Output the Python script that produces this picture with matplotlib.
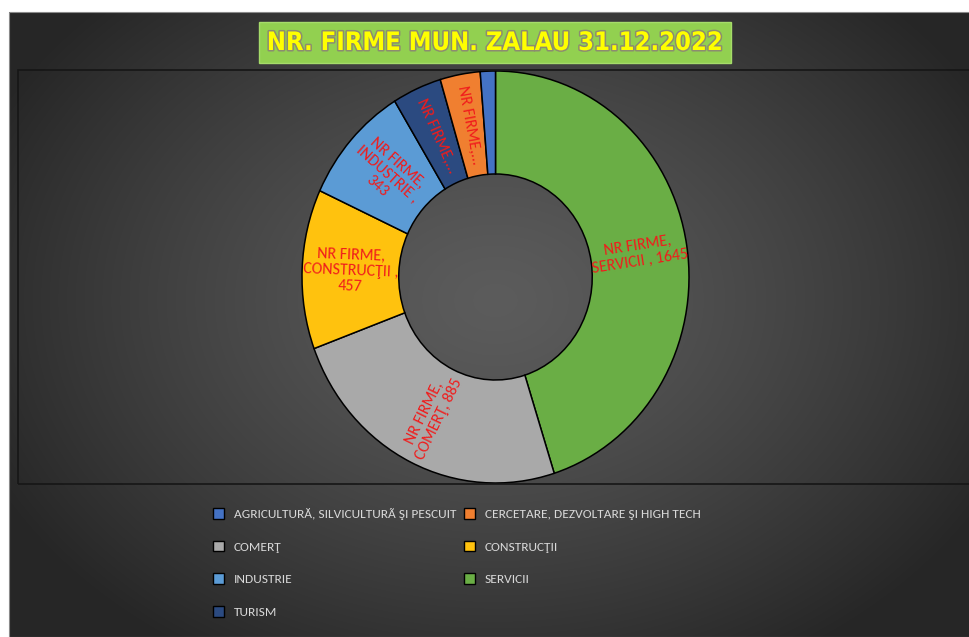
#!/usr/bin/env python

# import libraries
import numpy as np
import matplotlib
matplotlib.use("Agg")
import matplotlib.pyplot as plt
import matplotlib.patches as mpatches
import matplotlib.patheffects as pe

# data (clockwise from top, as in the chart)
categories = ["SERVICII", "COMERŢ", "CONSTRUCŢII", "INDUSTRIE", "TURISM",
              "CERCETARE, DEZVOLTARE ŞI HIGH TECH", "AGRICULTURĂ, SILVICULTURÃ ŞI PESCUIT"]
firme = [1645, 885, 457, 343, 150, 122, 46]
slice_labels = ["NR FIRME,\nSERVICII , 1645", "NR FIRME,\nCOMERŢ, 885", "NR FIRME,\nCONSTRUCŢII ,\n457",
                "NR FIRME,\nINDUSTRIE ,\n343", "NR FIRME,...", "NR FIRME,...", ""]
colors = ["#6aae45", "#a9a9a9", "#ffc20e", "#5b9bd5", "#2b4a80", "#f07f30", "#4472c4"]
legend_col1 = ["AGRICULTURĂ, SILVICULTURÃ ŞI PESCUIT", "COMERŢ", "INDUSTRIE", "TURISM"]
legend_col2 = ["CERCETARE, DEZVOLTARE ŞI HIGH TECH", "CONSTRUCŢII", "SERVICII"]
title = "NR. FIRME MUN. ZALAU 31.12.2022"

text_fonts = ["Carlito", "Roboto", "DejaVu Sans"]

W, H = 970, 637
fig = plt.figure(figsize=(W / 100, H / 100), dpi=100)
fig.patch.set_facecolor("white")

def fx(px):
    return px / W

def fy(py):
    return 1 - py / H

# dark background with radial gradient
bg = fig.add_axes([fx(9), 0, fx(W - 9), fy(12)])
yy, xx = np.mgrid[12:H, 9:W]
r = np.sqrt(((xx - 495) / 560.0) ** 2 + ((yy - 300) / 420.0) ** 2)
r = np.clip(r, 0, 1)
val = 0.36 - (0.36 - 0.15) * r ** 1.3
bg.imshow(np.dstack([val, val, val]), aspect="auto", interpolation="bilinear")
bg.axis("off")
fig.patches.append(mpatches.Rectangle((fx(9), 0), fx(W - 9), fy(12), transform=fig.transFigure,
                                      fill=False, edgecolor="#8a8a8a", lw=0.8, zorder=1))

# plot area border
fig.patches.append(mpatches.Rectangle((fx(18), fy(484)), fx(960), (484 - 70) / H, transform=fig.transFigure,
                                      fill=False, edgecolor="#161616", lw=1.2, zorder=2))

# title box
fig.patches.append(mpatches.Rectangle((fx(259), fy(63)), fx(731 - 259), (63 - 22) / H, transform=fig.transFigure,
                                      facecolor="#92d050", edgecolor="#a6dc6a", lw=1, zorder=3))
fig.text(fx(495), fy(43), title, ha="center", va="center", fontsize=18.3, fontweight="bold",
         fontstretch="condensed", color="#ffff00", zorder=4,
         path_effects=[pe.withStroke(linewidth=2.2, foreground="#8c8c70")])

# doughnut
ax = fig.add_axes([fx(495.5 - 193.5), fy(277 + 206), fx(387), 412 / H])
wedges, _ = ax.pie(firme, colors=colors, startangle=90, counterclock=False,
                   wedgeprops=dict(width=0.5, edgecolor="black", linewidth=1.1))
ax.set_aspect("auto")
ax.set_xlim(-1, 1)
ax.set_ylim(-1, 1)
ax.axis("off")
for w in wedges:
    w.set_clip_on(False)

# radial labels
for w, lab in zip(wedges, slice_labels):
    if not lab:
        continue
    mid = (w.theta1 + w.theta2) / 2.0
    t = np.deg2rad(mid)
    rot = mid if np.cos(t) > 0 else mid + 180
    rot = (rot + 180) % 360 - 180
    ax.text(0.75 * np.cos(t), 0.75 * np.sin(t), lab, ha="center", va="center", rotation=rot,
            rotation_mode="anchor", color="#f01c1c", fontsize=11.5, linespacing=1.15,
            family=text_fonts)

# legend, two columns placed separately
def make_handles(names):
    hs = []
    for name in names:
        c = colors[categories.index(name)]
        hs.append(mpatches.Patch(facecolor=c, edgecolor="black", lw=1, label=name))
    return hs

leg_kw = dict(loc="upper left", frameon=False, handlelength=0.85, handleheight=0.85,
              handletextpad=0.7, labelspacing=1.55, borderaxespad=0, borderpad=0,
              prop=dict(family=text_fonts, size=9.6))
leg1 = fig.legend(handles=make_handles(legend_col1), bbox_to_anchor=(fx(213), fy(508)), **leg_kw)
leg2 = fig.legend(handles=make_handles(legend_col2), bbox_to_anchor=(fx(464), fy(508)), **leg_kw)
for leg in (leg1, leg2):
    for t in leg.get_texts():
        t.set_color("#d9d9d9")

plt.savefig("out.png", dpi=100)
